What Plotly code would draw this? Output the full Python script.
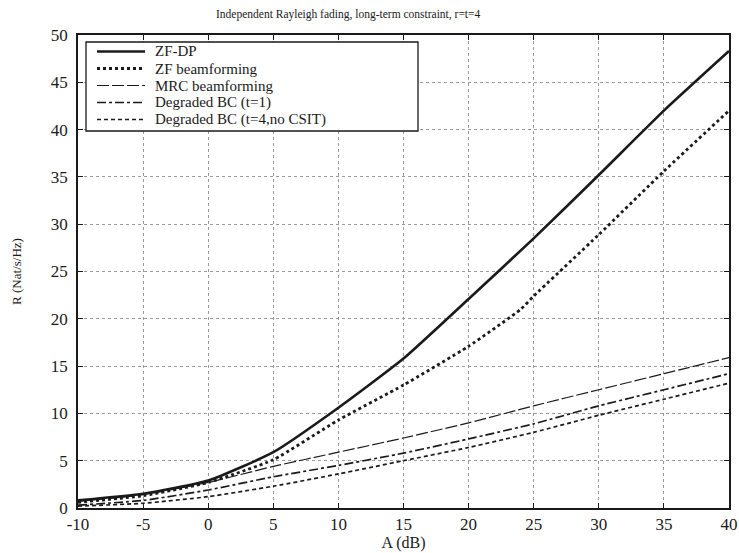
import plotly.graph_objects as go

# ---- data ----
A_db = [-10, -5, 0, 5, 10, 15, 20, 25, 30, 35, 40]
zf_dp = [0.8, 1.5, 2.9, 5.9, 10.6, 15.8, 22.1, 28.5, 35.2, 42.0, 48.3]
A_zfb = [-10, -5, 0, 5, 10, 15, 20, 24, 25, 30, 35, 40]
zf_beam = [0.6, 1.3, 2.7, 5.1, 9.3, 13.0, 17.1, 21.0, 22.4, 28.9, 35.6, 42.0]
mrc_beam = [0.7, 1.4, 2.7, 4.4, 5.9, 7.4, 9.0, 10.8, 12.5, 14.2, 15.9]
deg_t1 = [0.3, 0.8, 1.9, 3.3, 4.5, 5.8, 7.3, 8.9, 10.8, 12.5, 14.2]
deg_nocsit = [0.2, 0.5, 1.2, 2.3, 3.6, 5.0, 6.4, 8.0, 9.8, 11.5, 13.2]

names = ["ZF-DP", "ZF beamforming", "MRC beamforming",
         "Degraded BC (t=1)", "Degraded BC (t=4,no CSIT)"]
x_ticks = [-10, -5, 0, 5, 10, 15, 20, 25, 30, 35, 40]
y_ticks = [0, 5, 10, 15, 20, 25, 30, 35, 40, 45, 50]

FONT = "Liberation Serif"
INK = "#1a1a1a"

W, H = 739, 553
ML, MR, MT, MB = 78, 10, 35, 45
PW, PH = W - ML - MR, H - MT - MB


def px(xp):
    return (xp - ML) / PW


def py(yp):
    return 1 - (yp - MT) / PH


styles = [
    dict(color=INK, width=2.6, dash="solid"),
    dict(color=INK, width=2.8, dash="dot"),
    dict(color=INK, width=1.2, dash="12px,3px"),
    dict(color=INK, width=1.7, dash="dashdot"),
    dict(color=INK, width=1.7, dash="4px,3px"),
]
xs = [A_db, A_zfb, A_db, A_db, A_db]
ys = [zf_dp, zf_beam, mrc_beam, deg_t1, deg_nocsit]

fig = go.Figure()
for n, x, y, st in zip(names, xs, ys, styles):
    fig.add_trace(go.Scatter(x=x, y=y, mode="lines", name=n,
                             line=dict(shape="spline", smoothing=0.5, **st),
                             showlegend=False))

axis_common = dict(
    showline=True, linecolor=INK, linewidth=1.5, mirror="ticks",
    ticks="inside", ticklen=5, tickcolor=INK, tickwidth=1,
    showgrid=True, gridcolor="#9a9a9a", griddash="dot", gridwidth=1,
    zeroline=False, ticklabeloverflow="allow", automargin=False,
    tickfont=dict(family=FONT, size=17, color=INK),
)

fig.update_xaxes(range=[-10, 40], tickvals=x_ticks,
                 ticktext=[str(v) for v in x_ticks],
                 title=dict(text="A (dB)", font=dict(family=FONT, size=16, color=INK),
                            standoff=2),
                 **axis_common)
fig.update_yaxes(range=[0, 50], tickvals=y_ticks,
                 ticktext=[str(v) for v in y_ticks],
                 ticklabelstandoff=5,
                 title=dict(text="R (Nat/s/Hz)", font=dict(family=FONT, size=13, color=INK),
                            standoff=26),
                 **axis_common)

# legend drawn as a framed box inside the plot area
fig.add_shape(type="rect", xref="paper", yref="paper",
              x0=px(86), x1=px(418), y0=py(131), y1=py(42),
              line=dict(color=INK, width=1.3), fillcolor="white", layer="above")
entry_y = [51.5, 68.5, 85.5, 102.5, 119.5]
for n, st, ey in zip(names, styles, entry_y):
    fig.add_shape(type="line", xref="paper", yref="paper",
                  x0=px(97), x1=px(145), y0=py(ey), y1=py(ey),
                  line=st, layer="above")
    fig.add_annotation(text=n, xref="paper", yref="paper",
                       x=px(154), y=py(ey), xanchor="left", yanchor="middle",
                       showarrow=False, borderpad=0,
                       font=dict(family=FONT, size=15, color=INK))

fig.update_layout(
    width=W, height=H,
    margin=dict(l=ML, r=MR, t=MT, b=MB, autoexpand=False),
    paper_bgcolor="white", plot_bgcolor="white",
    title=dict(text="Independent Rayleigh fading, long-term constraint, r=t=4",
               x=216 / W, xanchor="left", xref="container",
               y=1 - 14 / H, yanchor="middle", yref="container",
               font=dict(family=FONT, size=11.5, color=INK)),
    showlegend=False,
)

fig.write_html("out.html")
